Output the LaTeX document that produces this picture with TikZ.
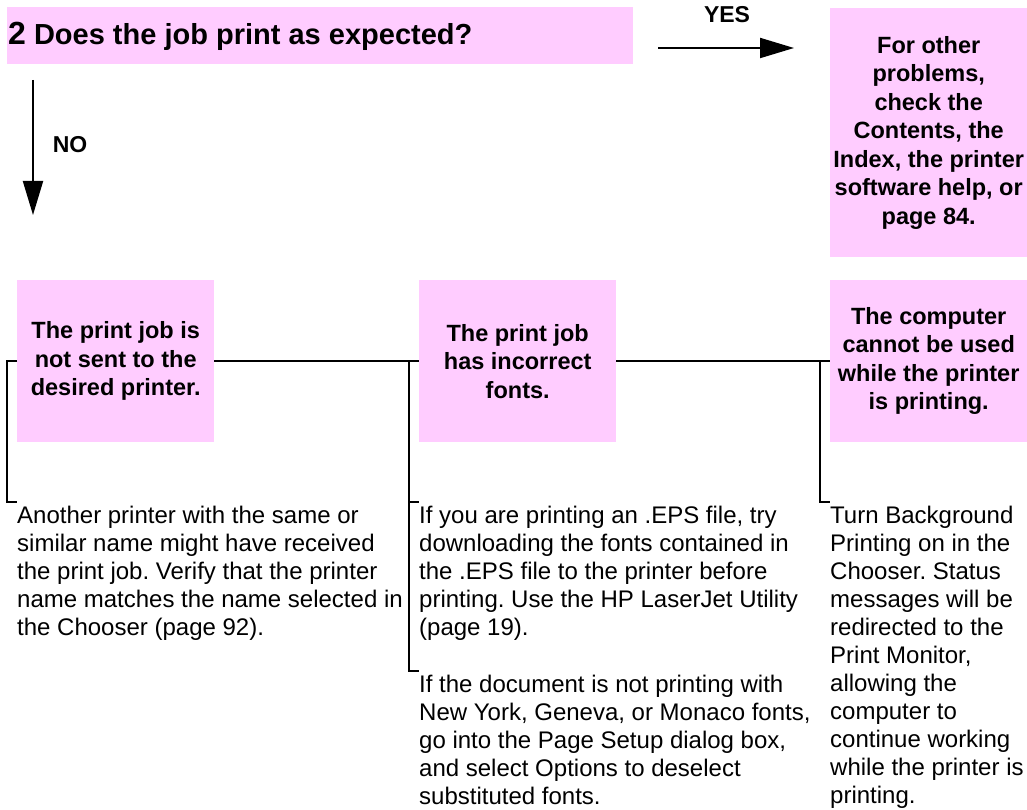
\documentclass[tikz,border=0pt]{standalone}
\usepackage{fontspec}
\setmainfont{Liberation Sans}
\usetikzlibrary{arrows.meta,calc}
\definecolor{boxpink}{RGB}{255,204,255}
\frenchspacing
\tikzset{
 pinkbox/.style={fill=boxpink, inner sep=0pt, minimum width=197pt, minimum height=162pt, align=center, font=\bfseries\fontsize{23.5}{28.5}\selectfont, anchor=north west},
 para/.style={inner sep=0pt, anchor=north west, align=left, font=\fontsize{24}{28}\selectfont},
 conn/.style={line width=2pt},
 bigarrow/.style={line width=2pt, -{Triangle[length=34pt,width=20pt]}},
 lbl/.style={font=\bfseries\fontsize{23}{28}\selectfont, inner sep=0pt}
}
\newcommand{\topst}{\rule{0pt}{21pt}}
\begin{document}
\begin{tikzpicture}[x=1pt,y=-1pt]
\useasboundingbox (0,0) rectangle (1027,810);
% header
\node[fill=boxpink, inner sep=0pt, minimum width=626pt, minimum height=57pt, anchor=north west] (h) at (7,7) {};
\node[inner sep=0pt, anchor=base west, font=\bfseries\fontsize{29}{34}\selectfont] (t) at (8,45)
  {{\fontsize{32}{34}\selectfont 2} Does the job print as expected?};
% top right box
\node[pinkbox, minimum height=249pt] (r) at (830,8) {For other\\problems,\\check the\\Contents, the\\Index, the printer\\software help, or\\page 84.};
% row boxes
\node[pinkbox] (b1) at (17,280) {The print job is\\not sent to the\\desired printer.};
\node[pinkbox] (b2) at (419,280) {The print job\\has incorrect\\fonts.};
\node[pinkbox] (b3) at (830,280) {The computer\\cannot be used\\while the printer\\is printing.};
% paragraphs
\node[para] (p1) at (17,502) {\topst Another printer with the same or\\similar name might have received\\the print job. Verify that the printer\\name matches the name selected in\\the Chooser (page 92).};
\node[para] (p2) at (419,502) {\topst If you are printing an .EPS file, try\\downloading the fonts contained in\\the .EPS file to the printer before\\printing. Use the HP LaserJet Utility\\(page 19).};
\node[para] (p3) at (419,671) {\topst If the document is not printing with\\New York, Geneva, or Monaco fonts,\\go into the Page Setup dialog box,\\and select Options to deselect\\substituted fonts.};
\node[para] (p4) at (830,502) {\topst Turn Background\\Printing on in the\\Chooser. Status\\messages will be\\redirected to the\\Print Monitor,\\allowing the\\computer to\\continue working\\while the printer is\\printing.};
% connectors
\draw[conn] (b1.west) -- ++(-10,0) |- (p1.north west);
\draw[conn] (b1.east) -- (b2.west);
\draw[conn] (b2.east) -- (b3.west);
\draw[conn] ($(b2.west)+(-10,0)$) |- (p2.north west);
\draw[conn] ($(b2.west)+(-10,0)$) |- (p3.north west);
\draw[conn] ($(b3.west)+(-10,0)$) |- (p4.north west);
% arrows
\coordinate (ys) at (658,48);
\coordinate (ye) at (794,48);
\draw[bigarrow] (ys) -- (ye);
\node[lbl] (yes) at (727,15) {YES};
\coordinate (ns) at (33,80);
\coordinate (ne) at (33,215);
\draw[bigarrow] (ns) -- (ne);
\node[lbl] (no) at (70,145) {NO};
\end{tikzpicture}
\end{document}
